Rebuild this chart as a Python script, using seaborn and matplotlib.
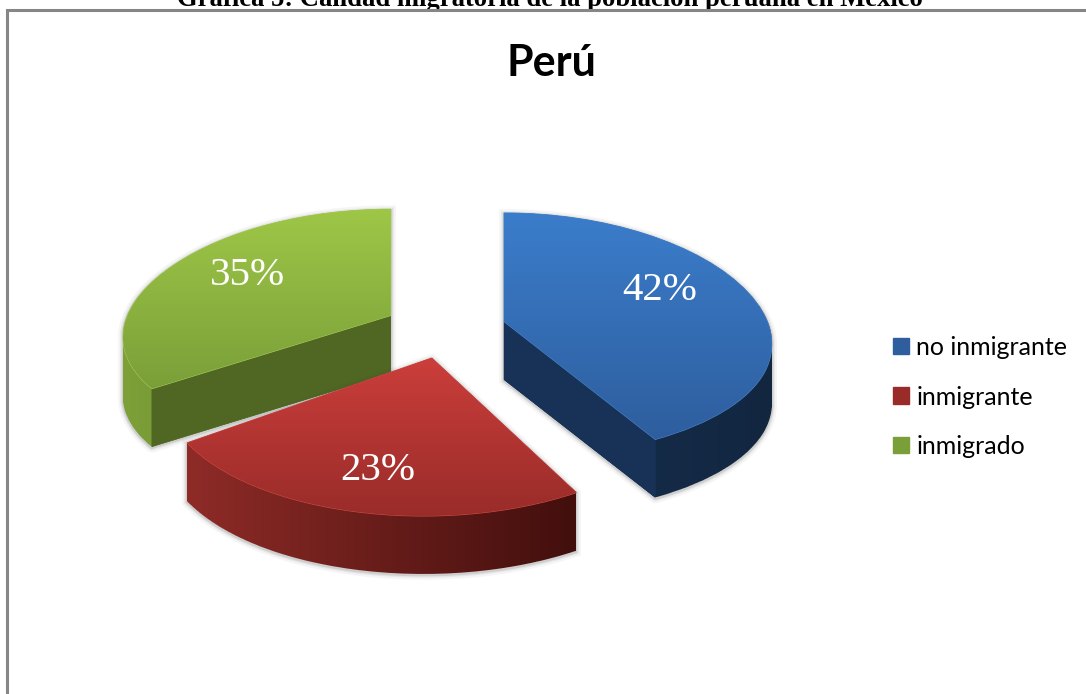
import numpy as np
import matplotlib
matplotlib.use("Agg")
import matplotlib.pyplot as plt
from matplotlib.patches import Patch, Polygon, Rectangle
from matplotlib.transforms import Transform
import seaborn as sns

# ---- data ----
categories = ["no inmigrante", "inmigrante", "inmigrado"]
shares = [42, 23, 35]
chart_title = "Perú"
page_title = "Gráfica 5: Calidad migratoria de la población peruana en México"

# ---- styling ----
top_light = ["#3B7DCB", "#CB3E3B", "#9EC747"]
top_dark = ["#2E5E9E", "#992C29", "#7A9F39"]
rim_cols = ["#4A86CC", "#D04A46", "#A8CC58"]
wall_left = ["#16304F", "#8E2B27", "#7DA038"]
wall_right = ["#122640", "#420F0D", "#5C7A2A"]
cut_cols = ["#173256", "#401010", "#506623"]
cut_side = ["theta1", None, "theta2"]
label_px = [(660, 290), (378, 470), (248, 275)]
W, H = 1086, 694
CENTER = (445, H - 329)
RADIUS = 263
EXPLODE = 61
SHIFT_SQUASH = 0.489
squash = [0.46, 0.489, 0.445]
tilt_y = [0.114, 0.185, 0.102]
tilt_x = [0.185, 0.19, 0.185]
shear = [0.0, 8.5, 0.0]
DEPTH = 58

sns.set_theme(style="white")
plt.rcParams["font.family"] = ["Lato", "DejaVu Sans"]

fig = plt.figure(figsize=(W / 100, H / 100), dpi=100, facecolor="white")
ax = fig.add_axes([0, 0, 1, 1])


class Tilted(Transform):
    """Perspective view of one pie wedge, about its apex."""
    input_dims = output_dims = 2

    def __init__(self, apex, squash_, tx, ty, sh):
        super().__init__()
        self.apex = np.asarray(apex, float)
        self.squash_, self.tx, self.ty, self.sh = squash_, tx, ty, sh

    def transform_non_affine(self, values):
        d = np.asarray(values, float) - self.apex
        v = d[:, 1] / RADIUS
        return self.apex + np.c_[d[:, 0] / (1 + self.tx * v) + self.sh * v,
                                 d[:, 1] * self.squash_ / (1 + self.ty * v)]


wedges, _, autotexts = ax.pie(
    shares,
    colors=top_dark,
    explode=[EXPLODE] * len(shares),
    startangle=90,
    counterclock=False,
    center=CENTER,
    radius=RADIUS,
    autopct=lambda p: f"{p:.0f}%",
    frame=False,
)
ax.set_aspect("auto")


def outline(pts):
    """Densify the outline so the vertical sweep can be computed per column."""
    out = []
    for a, b in zip(pts[:-1], pts[1:]):
        n = max(2, int(np.hypot(*(b - a)) * 3))
        out.append(np.linspace(a, b, n))
    return np.vstack(out)


draw_order = [2, 0, 1]
for i in draw_order:
    w = wedges[i]
    # the apex on screen keeps the exploded offset, foreshortened
    raw = np.array(w.center, float)
    off = raw - np.array(CENTER, float)
    apex = np.array(CENTER, float) + off * [1, SHIFT_SQUASH]
    w.set_center(tuple(apex))
    tr = Tilted(apex, squash[i], tilt_x[i], tilt_y[i], shear[i])
    poly = tr.transform_path(w.get_path()).to_polygons(closed_only=False)[0]
    pts = outline(poly)
    xi = np.round(pts[:, 0])
    grid = np.unique(xi)
    top = np.array([pts[xi == g, 1].max() for g in grid])
    bot = np.array([pts[xi == g, 1].min() for g in grid]) - DEPTH
    sil = np.r_[np.c_[grid, top], np.c_[grid, bot][::-1]]

    # soft shadow
    for lw, alpha in [(7, 0.05), (4, 0.08), (2, 0.14)]:
        ax.add_patch(Polygon(sil + [0, -1], closed=True, fc="none", ec="#404040",
                             lw=lw, alpha=alpha, zorder=1 + draw_order.index(i)))

    z = 2 + draw_order.index(i)
    # outer wall, shaded left to right
    cmap_w = sns.blend_palette([wall_left[i], wall_right[i]], as_cmap=True)
    box = (grid.min(), grid.max(), bot.min(), top.max())
    im = ax.imshow(np.linspace(0, 1, 256)[None, :], cmap=cmap_w, extent=box,
                   aspect="auto", zorder=z)
    wall = Polygon(sil, closed=True, fc="none", ec="none", zorder=z)
    ax.add_patch(wall)
    im.set_clip_path(wall)

    # flat cut wall
    if cut_side[i]:
        ang = np.deg2rad(getattr(w, cut_side[i]))
        rim = apex + RADIUS * np.array([np.cos(ang), np.sin(ang)])
        a, r = tr.transform(np.array([apex, rim]))
        ax.add_patch(Polygon([a, r, r - [0, DEPTH], a - [0, DEPTH]], closed=True,
                             fc=cut_cols[i], ec=cut_cols[i], lw=0.5, zorder=z + 0.1))

    # top face, shaded top to bottom
    w.set_transform(tr + ax.transData)
    w.set_edgecolor(rim_cols[i])
    w.set_linewidth(0.8)
    w.set_zorder(z + 0.2)
    cmap_t = sns.blend_palette([top_light[i], top_dark[i]], as_cmap=True)
    box_t = (pts[:, 0].min(), pts[:, 0].max(), pts[:, 1].min(), pts[:, 1].max())
    im_t = ax.imshow(np.linspace(0, 1, 256)[:, None], cmap=cmap_t, extent=box_t,
                     origin="upper", aspect="auto", zorder=z + 0.3)
    im_t.set_clip_path(w)

    t = autotexts[i]
    t.set_position((label_px[i][0], H - label_px[i][1]))
    t.set(color="white", fontsize=29.5, family="Liberation Serif",
          ha="center", va="center", zorder=10)

ax.set_xlim(0, W)
ax.set_ylim(0, H)
ax.axis("off")

# page title and chart frame
ax.text(550, H - 6, page_title, family="Liberation Serif", fontweight="bold",
        fontsize=19.2, ha="center", va="baseline", color="black", zorder=0.1)
ax.add_patch(Rectangle((7, -20), W + 30, H + 20 - 10, fc="white", ec="#868686",
                       lw=2.2, zorder=0.2))
ax.text(551, H - 76, chart_title, fontweight="bold", fontsize=31, ha="center",
        va="baseline", color="black", zorder=10)

handles = [Patch(facecolor=top_dark[i], edgecolor=top_dark[i], linewidth=1.0)
           for i in range(len(categories))]
ax.legend(handles, categories, loc="center left", bbox_to_anchor=(893 / W, 1 - 397 / H),
          frameon=False, fontsize=18, handlelength=0.64, handleheight=0.64,
          handletextpad=0.3, labelspacing=1.06, borderpad=0, borderaxespad=0,
          labelcolor="black")

fig.savefig("out.png", dpi=100, facecolor="white")
